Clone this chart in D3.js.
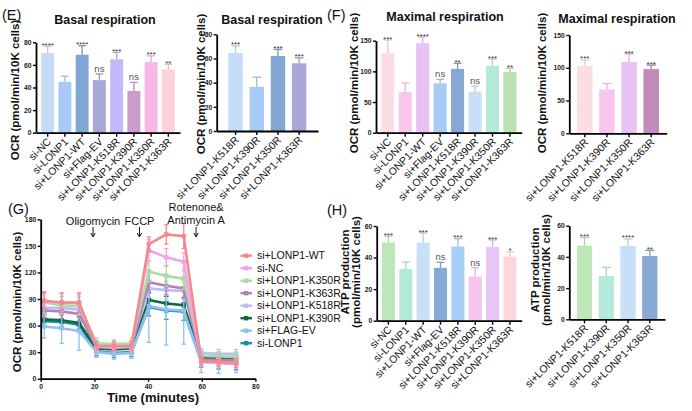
<!DOCTYPE html>
<html><head><meta charset="utf-8">
<script src="https://cdn.jsdelivr.net/npm/d3@7"></script>
<style>body{margin:0;background:#fff} svg{display:block} text{font-family:"Liberation Sans",Arial,sans-serif}</style>
</head><body><svg id="c" width="692" height="411"></svg>
<script>
// ---------- DATA ----------
const groupsFull = ["si-NC","si-LONP1","si+LONP1-WT","si+Flag-EV","si+LONP1-K518R","si+LONP1-K390R","si+LONP1-K350R","si+LONP1-K363R"];
const groupsSub = ["si+LONP1-K518R","si+LONP1-K390R","si+LONP1-K350R","si+LONP1-K363R"];

// (E) Basal respiration
const basalFull = [70.5,45,69,46.5,65,37,62.5,56];
const basalFullErr = [6,5,8,5.5,6,7.5,5.5,4.5];
const basalFullSig = ["****","","****","ns","***","ns","***","**"];
const basalSub = [64.5,36.5,62,56];
const basalSubErr = [6,8,5.5,4.5];
const basalSubSig = ["***","","***","***"];
const basalTicks = [0,20,40,60,80];

// (F) Maximal respiration
const maxFull = [130,66,146,80.5,104,67,109,99];
const maxFullErr = [21,15,10,6.5,9,9,11,6];
const maxFullSig = ["***","","****","ns","**","ns","***","**"];
const maxSub = [103,67,109,98];
const maxSubErr = [9,9,12,6];
const maxSubSig = ["***","","***","***"];
const maxTicks = [0,50,100,150];

// (H) ATP production
const atpFull = [49.5,32.7,49.5,33.5,47,28,46.8,40.6];
const atpFullErr = [4,4.5,6,3.5,5,5.5,4.3,3];
const atpFullSig = ["***","","***","ns","***","ns","***","*"];
const atpSub = [47.2,27.8,47,40.6];
const atpSubErr = [5.3,5.5,4.5,3.6];
const atpSubSig = ["***","","****","**"];
const atpTicks = [0,20,40,60];

// (G) OCR time course
const times = [1.3,7.8,14.3,20.8,27.3,33.8,40.3,46.8,53.3,59.8,66.3,72.8];
const ocrTicks = [0,30,60,90,120,150,180];
const timeTicks = [0,20,40,60,80];
const seriesNames = ["si+LONP1-WT","si-NC","si+LONP1-K350R","si+LONP1-K363R","si+LONP1-K518R","si+LONP1-K390R","si+FLAG-EV","si-LONP1"];
const ocrWT    = [88,86,86,37,37,37,152,163,161,20,19,18];
const ocrNC    = [87,86,85,36,35,36,145,137,132,19,18,17];
const ocrK350R = [86,83,82,40,39,40,121,116,113,26,25,25];
const ocrK363R = [77,76,73,36,35,36,109,105,102,22,21,21];
const ocrK518R = [80,80,78,38,37,38,102,100,99,29,28,28];
const ocrK390R = [67,66,63,34,33,34,89,85,83,24,23,22];
const ocrFLAG  = [59,57,54,30,28,29,82,78,77,19,18,17];
const ocrLONP1 = [65,64,61,31,29,30,81,77,76,20,18,17];
const errWT    = [10,11,11,5,5,5,8,11,14,5,5,5];
const errNC    = [9,10,10,5,5,5,12,10,10,5,5,5];
const errK350R = [12,10,10,6,5,6,12,12,12,6,5,5];
const errK363R = [8,8,8,5,5,5,10,10,10,5,5,5];
const errK518R = [8,8,9,5,5,5,10,10,10,5,5,5];
const errK390R = [7,7,7,4,4,4,8,8,8,4,4,4];
const errFLAG  = [13,17,22,6,6,6,41,40,38,12,12,10];
const errLONP1 = [7,8,8,5,5,5,10,10,10,7,7,7];

// ---------- STYLE ----------
const colE1 = ["#c6dcf6","#a6cbf6","#81a6d3","#a7a7d8","#c3b9f8","#c99cc9","#f8b7e4","#fcd3da"];
const colE2 = ["#c6dcf6","#a6cbf6","#81a6d3","#a7a7d8"];
const colF1 = ["#fddde4","#f8c5ec","#e8c1f5","#a6cbf5","#86a8d4","#c9dff8","#b3ead8","#bae2b5"];
const colF2 = ["#fddde4","#f8c5ec","#e8c1f5","#c08bb8"];
const colH1 = ["#bee6b9","#b5eada","#c8dff8","#88a9d4","#a8cdf7","#f7c4ec","#e9c4f6","#fdd7dc"];
const colH2 = ["#bee6b9","#b5eada","#c8dff8","#88a9d4"];
const seriesColors = ["#f4898a","#f4a2ee","#a9dca3","#b57fb9","#bcbcfa","#0f6b3c","#8fc0f5","#1a8fa0"];

const svg = d3.select("#c");

function styleAxis(a){
  a.select(".domain").attr("stroke","#000").attr("stroke-width",1.8);
  a.selectAll(".tick line").attr("stroke","#000").attr("stroke-width",1.4);
}

function drawBar(o){
  const g = svg.append("g");
  const x = d3.scaleBand().domain(o.cats).range([o.x0,o.x1]).paddingInner(o.pi).paddingOuter(o.po);
  const y = d3.scaleLinear().domain([0,o.ymax]).range([o.y0,o.y1]);
  const bw = x.bandwidth();
  const data = o.vals.map((v,i)=>({c:o.cats[i],v,e:o.errs[i],s:o.sigs[i],col:o.colors[i]}));
  g.selectAll("rect.bar").data(data).join("rect").attr("class","bar")
    .attr("x",d=>x(d.c)).attr("y",d=>y(d.v)).attr("width",bw).attr("height",d=>y(0)-y(d.v))
    .attr("fill",d=>d.col);
  const eg = g.selectAll("g.err").data(data).join("g").attr("class","err");
  eg.append("line").attr("x1",d=>x(d.c)+bw/2).attr("x2",d=>x(d.c)+bw/2)
    .attr("y1",d=>y(d.v)).attr("y2",d=>y(d.v+d.e))
    .attr("stroke",d=>d3.color(d.col).darker(0.25)).attr("stroke-width",1.3);
  eg.append("line").attr("x1",d=>x(d.c)+bw/2-bw*0.3).attr("x2",d=>x(d.c)+bw/2+bw*0.3)
    .attr("y1",d=>y(d.v+d.e)).attr("y2",d=>y(d.v+d.e))
    .attr("stroke",d=>d3.color(d.col).darker(0.25)).attr("stroke-width",1.3);
  g.selectAll("text.sig").data(data.filter(d=>d.s)).join("text").attr("class","sig")
    .attr("x",d=>x(d.c)+bw/2)
    .attr("y",d=>d.s==="ns"? y(d.v+d.e)-2 : y(d.v+d.e)+1.5)
    .attr("text-anchor","middle")
    .attr("font-size",d=>d.s==="ns"?9.5:8)
    .attr("fill",d=>d.s==="ns"?"#555":"#333")
    .text(d=>d.s);
  const ya = g.append("g").attr("transform",`translate(${o.x0},0)`)
    .call(d3.axisLeft(y).tickValues(o.ticks).tickSize(3).tickSizeOuter(0).tickPadding(1.5));
  styleAxis(ya);
  ya.selectAll("text").attr("font-size",6.8).attr("font-weight","bold").attr("fill","#222");
  const xa = g.append("g").attr("transform",`translate(0,${o.y0})`)
    .call(d3.axisBottom(x).tickSize(4).tickSizeOuter(0));
  styleAxis(xa);
  xa.selectAll("text").attr("x",-4).attr("y",6).attr("dy","0.35em")
    .attr("transform","rotate(-45)").style("text-anchor","end")
    .attr("font-size",10.5).attr("fill","#111");
  if(o.title) g.append("text").attr("x",o.tx).attr("y",o.ty).attr("text-anchor","middle")
    .attr("font-size",12.5).attr("font-weight","bold").attr("fill","#111").text(o.title);
  o.ylab.forEach((t,k)=>{
    g.append("text").attr("transform",`translate(${o.lx[k]},${o.ly}) rotate(-90)`)
      .attr("dy","0.35em").attr("text-anchor","middle").attr("font-size",11.5)
      .attr("font-weight","bold").attr("fill","#111").text(t);
  });
}

const ocrLab = "OCR (pmol/min/10K cells)";
drawBar({cats:groupsFull,vals:basalFull,errs:basalFullErr,sigs:basalFullSig,colors:colE1,
  x0:36,x1:180,y0:132.7,y1:42.3,ymax:80,ticks:basalTicks,pi:0.25,po:0.3,
  title:"Basal respiration",tx:105,ty:24,ylab:[ocrLab],lx:[15],ly:90});
drawBar({cats:groupsSub,vals:basalSub,errs:basalSubErr,sigs:basalSubSig,colors:colE2,
  x0:216.7,x1:318,y0:131,y1:34.3,ymax:80,ticks:basalTicks,pi:0.32,po:0.55,
  title:"Basal respiration",tx:272,ty:23.5,ylab:[ocrLab],lx:[201],ly:84});
drawBar({cats:groupsFull,vals:maxFull,errs:maxFullErr,sigs:maxFullSig,colors:colF1,
  x0:376,x1:521.7,y0:132.7,y1:40.7,ymax:150,ticks:maxTicks,pi:0.25,po:0.3,
  title:"Maximal respiration",tx:445,ty:21,ylab:[ocrLab],lx:[354],ly:83});
drawBar({cats:groupsSub,vals:maxSub,errs:maxSubErr,sigs:maxSubSig,colors:colF2,
  x0:569.3,x1:666.7,y0:133.3,y1:35,ymax:150,ticks:maxTicks,pi:0.3,po:0.35,
  title:"Maximal respiration",tx:617,ty:22.5,ylab:[ocrLab],lx:[542],ly:83});
drawBar({cats:groupsFull,vals:atpFull,errs:atpFullErr,sigs:atpFullSig,colors:colH1,
  x0:376.7,x1:521.7,y0:320.7,y1:226,ymax:60,ticks:atpTicks,pi:0.25,po:0.3,
  title:null,ylab:["ATP production","(pmol/min/10K cells)"],lx:[345,356],ly:272});
drawBar({cats:groupsSub,vals:atpSub,errs:atpSubErr,sigs:atpSubSig,colors:colH2,
  x0:569.3,x1:665,y0:319.3,y1:225.7,ymax:60,ticks:atpTicks,pi:0.3,po:0.35,
  title:null,ylab:["ATP production","(pmol/min/10K cells)"],lx:[535,546],ly:270});

// ---------- (G) line chart ----------
const series = [ocrWT,ocrNC,ocrK350R,ocrK363R,ocrK518R,ocrK390R,ocrFLAG,ocrLONP1];
const serErr = [errWT,errNC,errK350R,errK363R,errK518R,errK390R,errFLAG,errLONP1];
const gx = d3.scaleLinear().domain([0,80]).range([40.7,255.4]);
const gy = d3.scaleLinear().domain([0,180]).range([378.7,219.3]);
const G = svg.append("g");
const order = [7,5,6,4,3,2,1,0];
const line = d3.line().x((d,i)=>gx(times[i])).y(d=>gy(d));
order.forEach(si=>{
  const col = seriesColors[si], vals = series[si], errs = serErr[si];
  const sg = G.append("g");
  vals.forEach((v,i)=>{
    const cx = gx(times[i]);
    sg.append("line").attr("x1",cx).attr("x2",cx).attr("y1",gy(v-errs[i])).attr("y2",gy(v+errs[i]))
      .attr("stroke",col).attr("stroke-width",1.3);
    [v-errs[i],v+errs[i]].forEach(e=>sg.append("line").attr("x1",cx-2.2).attr("x2",cx+2.2)
      .attr("y1",gy(e)).attr("y2",gy(e)).attr("stroke",col).attr("stroke-width",1.3));
  });
  sg.append("path").datum(vals).attr("d",line).attr("fill","none").attr("stroke",col).attr("stroke-width",2.6);
  sg.selectAll("rect").data(vals).join("rect").attr("x",(d,i)=>gx(times[i])-2.2).attr("y",d=>gy(d)-2.2)
    .attr("width",4.4).attr("height",4.4).attr("fill",col);
});
const gya = G.append("g").attr("transform",`translate(${gx(0)},0)`)
  .call(d3.axisLeft(gy).tickValues(ocrTicks).tickSize(3).tickSizeOuter(0).tickPadding(1.5));
styleAxis(gya);
gya.selectAll("text").attr("font-size",6.8).attr("font-weight","bold").attr("fill","#222");
const gxa = G.append("g").attr("transform",`translate(0,${gy(0)})`)
  .call(d3.axisBottom(gx).tickValues(timeTicks).tickSize(3).tickSizeOuter(0).tickPadding(2));
styleAxis(gxa);
gxa.selectAll("text").attr("font-size",6.8).attr("font-weight","bold").attr("fill","#222");
G.append("text").attr("x",153).attr("y",402).attr("text-anchor","middle").attr("font-size",13)
  .attr("font-weight","bold").attr("fill","#111").text("Time (minutes)");
G.append("text").attr("transform",`translate(17,302) rotate(-90)`).attr("dy","0.35em")
  .attr("text-anchor","middle").attr("font-size",11.5).attr("font-weight","bold").attr("fill","#111").text(ocrLab);
// injections
const inj = [{t:19.5,lab:["Oligomycin"]},{t:36.8,lab:["FCCP"]},{t:57.9,lab:["Rotenone&","Antimycin A"]}];
inj.forEach(d=>{
  const xx = gx(d.t);
  d.lab.forEach((t,k)=>G.append("text").attr("x",xx).attr("y",d.lab.length===1?225:211+k*12.5)
    .attr("text-anchor","middle").attr("font-size",11).attr("fill","#111").text(t));
  G.append("line").attr("x1",xx).attr("x2",xx).attr("y1",227).attr("y2",236).attr("stroke","#111").attr("stroke-width",1);
  G.append("path").attr("d",`M${xx-2.2},${233} L${xx},${237} L${xx+2.2},${233}`).attr("fill","none").attr("stroke","#111").attr("stroke-width",1);
});
// legend
seriesNames.forEach((n,i)=>{
  const yy = 255.7 + i*12.5;
  G.append("line").attr("x1",240.5).attr("x2",252).attr("y1",yy).attr("y2",yy).attr("stroke",seriesColors[i]).attr("stroke-width",2.4);
  G.append("rect").attr("x",244).attr("y",yy-2.2).attr("width",4.4).attr("height",4.4).attr("fill",seriesColors[i]);
  G.append("text").attr("x",257).attr("y",yy).attr("dy","0.35em").attr("font-size",10.5).attr("fill","#111").text(n);
});

// panel letters
[["(E)",2,20],["(F)",327,20],["(G)",8,214],["(H)",327,215]].forEach(p=>
  svg.append("text").attr("x",p[1]).attr("y",p[2]).attr("font-size",14.5).attr("fill","#111").text(p[0]));
</script></body></html>
